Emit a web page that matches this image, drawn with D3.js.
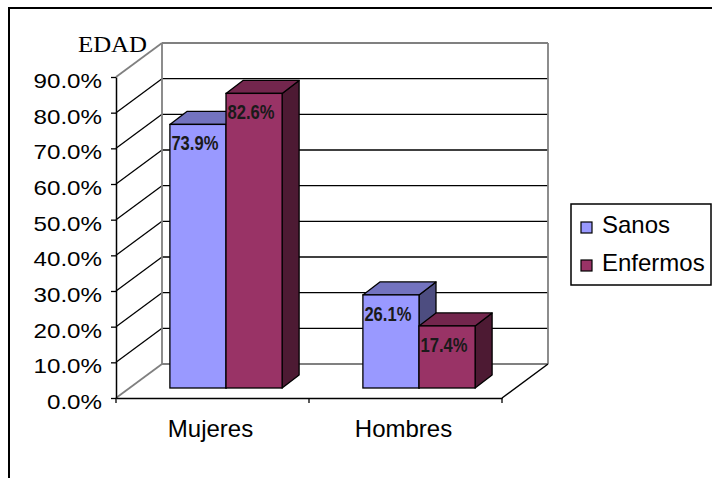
<!DOCTYPE html>
<html>
<head>
<meta charset="utf-8">
<script src="https://cdn.jsdelivr.net/npm/d3@7"></script>
<style>
  body { margin: 0; background: #fff; }
  svg { display: block; }
</style>
</head>
<body>
<div class="chart"></div>
<script>
// data
var categories = ["Mujeres", "Hombres"];
var seriesNames = ["Sanos", "Enfermos"];
var sanos = [0.739, 0.261];
var enfermos = [0.826, 0.174];
var yTicks = [0, 0.1, 0.2, 0.3, 0.4, 0.5, 0.6, 0.7, 0.8, 0.9];

var svgWidth = 712;
var svgHeight = 478;

// colors: front, top, side
var colors = {
  Sanos: ["#9999ff", "#7373bf", "#4d4d80"],
  Enfermos: ["#993366", "#73264d", "#4d1a33"]
};

var svg = d3.select(".chart")
  .append("svg")
  .attr("width", svgWidth)
  .attr("height", svgHeight);

// outer frame (runs past the right and bottom edges)
svg.append("rect")
  .attr("x", 9).attr("y", 8)
  .attr("width", 720).attr("height", 480)
  .attr("fill", "none")
  .attr("stroke", "#000")
  .attr("stroke-width", 2);

// front plane scales
var x0 = d3.scaleBand().domain(categories).range([116, 502]);
var x1 = d3.scaleBand().domain(seriesNames)
  .range([0, x0.bandwidth()])
  .paddingInner(0).paddingOuter(0.72);
var y = d3.scaleLinear().domain([0, 0.9]).range([398, 77]);

// depth of the whole floor / wall
var depth = { dx: 46, dy: -34 };
// where the bars sit in depth, and their own depth
var barOff = { dx: 13.5, dy: -10 };
var barDepth = { dx: 17, dy: -13 };

var grey = "#808080";
var walls = svg.append("g");

// side wall diagonals
yTicks.forEach(function(t, i) {
  var edge = (i === 0 || i === yTicks.length - 1);
  walls.append("line")
    .attr("x1", 116).attr("y1", y(t))
    .attr("x2", 116 + depth.dx).attr("y2", y(t) + depth.dy)
    .attr("stroke", edge ? grey : "#000")
    .attr("stroke-width", edge ? 1.8 : 1.3);
});

// back wall gridlines
yTicks.forEach(function(t, i) {
  var edge = (i === 0 || i === yTicks.length - 1);
  walls.append("line")
    .attr("x1", 116 + depth.dx).attr("y1", y(t) + depth.dy)
    .attr("x2", 502 + depth.dx).attr("y2", y(t) + depth.dy)
    .attr("stroke", edge ? grey : "#000")
    .attr("stroke-width", edge ? 1.8 : 1.3);
});

// back wall verticals
[116, 502].forEach(function(xv) {
  walls.append("line")
    .attr("x1", xv + depth.dx).attr("y1", y(0) + depth.dy)
    .attr("x2", xv + depth.dx).attr("y2", y(0.9) + depth.dy)
    .attr("stroke", grey)
    .attr("stroke-width", 1.8);
});

// floor right edge
walls.append("line")
  .attr("x1", 502).attr("y1", y(0))
  .attr("x2", 502 + depth.dx).attr("y2", y(0) + depth.dy)
  .attr("stroke", "#000")
  .attr("stroke-width", 1.5);

// bars
var barsGroup = svg.append("g");
var labelData = [];

categories.forEach(function(cat, ci) {
  var values = { Sanos: sanos[ci], Enfermos: enfermos[ci] };
  seriesNames.forEach(function(s) {
    var v = values[s];
    var xl = x0(cat) + x1(s) + barOff.dx;
    var xr = xl + x1.bandwidth();
    var yt = y(v) + barOff.dy;
    var yb = y(0) + barOff.dy;
    var dx = barDepth.dx, dy = barDepth.dy;
    var c = colors[s];

    // side face
    barsGroup.append("polygon")
      .attr("points", [[xr, yt], [xr + dx, yt + dy], [xr + dx, yb + dy], [xr, yb]].join(" "))
      .attr("fill", c[2]).attr("stroke", "#000").attr("stroke-width", 1.3)
      .attr("stroke-linejoin", "round");
    // top face
    barsGroup.append("polygon")
      .attr("points", [[xl, yt], [xl + dx, yt + dy], [xr + dx, yt + dy], [xr, yt]].join(" "))
      .attr("fill", c[1]).attr("stroke", "#000").attr("stroke-width", 1.3)
      .attr("stroke-linejoin", "round");
    // front face
    barsGroup.append("rect")
      .attr("x", xl).attr("y", yt)
      .attr("width", xr - xl).attr("height", yb - yt)
      .attr("fill", c[0]).attr("stroke", "#000").attr("stroke-width", 1.3);

    labelData.push({ x: xl + 1.5, y: yt + 26, v: v });
  });
});

// data labels (narrow font look)
svg.append("g").selectAll("text")
  .data(labelData)
  .enter()
  .append("text")
  .attr("x", d => d.x)
  .attr("y", d => d.y)
  .attr("font-family", "'Liberation Sans', Arial, sans-serif")
  .attr("font-size", 20)
  .attr("font-weight", "bold")
  .attr("fill", "#1a1a1a")
  .attr("textLength", 47)
  .attr("lengthAdjust", "spacingAndGlyphs")
  .text(d => d3.format(".1%")(d.v));

// y axis
var leftAxis = d3.axisLeft(y)
  .tickValues(yTicks)
  .tickFormat(d3.format(".1%"))
  .tickSize(5)
  .tickPadding(9)
  .tickSizeOuter(0);

var yAxis = svg.append("g")
  .attr("transform", "translate(116, 0)")
  .call(leftAxis);
yAxis.select(".domain").attr("stroke", "#000").attr("stroke-width", 1.5);
yAxis.selectAll(".tick line").attr("stroke", "#000").attr("stroke-width", 1.3);
yAxis.selectAll("text")
  .attr("font-family", "'Liberation Sans', Arial, sans-serif")
  .attr("font-size", 21)
  .attr("fill", "#000")
  .attr("dy", "0.5em")
  .each(function() {
    // the original tick labels are drawn a bit wider than normal
    var w = this.getComputedTextLength();
    d3.select(this)
      .attr("textLength", w * 1.15)
      .attr("lengthAdjust", "spacingAndGlyphs");
  });

// x axis
var bottomAxis = d3.axisBottom(x0).tickSize(0).tickPadding(22).tickSizeOuter(0);
var xAxis = svg.append("g")
  .attr("transform", `translate(0, ${y(0)})`)
  .call(bottomAxis);
xAxis.select(".domain").attr("stroke", "#000").attr("stroke-width", 1.5);
xAxis.selectAll("text")
  .attr("font-family", "'Liberation Sans', Arial, sans-serif")
  .attr("font-size", 24)
  .attr("fill", "#000")
  .attr("dx", -2);

// category boundary ticks
var bounds = [116].concat(categories.map(c => x0(c) + x0.bandwidth()));
svg.append("g").selectAll("line")
  .data(bounds)
  .enter()
  .append("line")
  .attr("x1", d => d).attr("x2", d => d)
  .attr("y1", y(0)).attr("y2", y(0) + 5)
  .attr("stroke", "#000").attr("stroke-width", 1.3);

// axis title
svg.append("text")
  .attr("x", 78).attr("y", 52)
  .attr("font-family", "'Liberation Serif', 'Times New Roman', serif")
  .attr("font-size", 24)
  .attr("fill", "#000")
  .attr("textLength", 69)
  .attr("lengthAdjust", "spacingAndGlyphs")
  .text("EDAD");

// legend
var legend = svg.append("g");
legend.append("rect")
  .attr("x", 571).attr("y", 204)
  .attr("width", 140).attr("height", 81)
  .attr("fill", "#fff")
  .attr("stroke", "#000")
  .attr("stroke-width", 1.5);

seriesNames.forEach(function(s, i) {
  legend.append("rect")
    .attr("x", 581).attr("y", 222 + i * 38)
    .attr("width", 11).attr("height", 11)
    .attr("fill", colors[s][0])
    .attr("stroke", "#000").attr("stroke-width", 1.2);
  legend.append("text")
    .attr("x", 602).attr("y", 233 + i * 38)
    .attr("font-family", "'Liberation Sans', Arial, sans-serif")
    .attr("font-size", 24)
    .attr("fill", "#000")
    .text(s);
});
</script>
</body>
</html>
